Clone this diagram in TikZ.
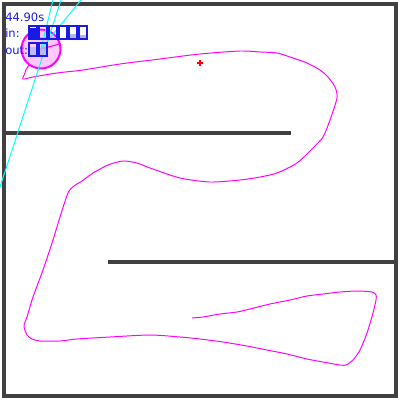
\documentclass[tikz,border=0pt]{standalone}
\usepackage{fontspec}
\setmainfont{DejaVu Sans}
\usepackage{xcolor}
\usepackage{tikz}
\usetikzlibrary{positioning}

\definecolor{wallgray}{HTML}{404040}
\definecolor{hudblue}{HTML}{1A1AE6}
\definecolor{hudlight}{HTML}{B4B4F5}
\definecolor{robotpink}{HTML}{FFC8FF}
\definecolor{trailmag}{HTML}{FF00FF}
\definecolor{raycyan}{HTML}{00FFFF}
\definecolor{goalred}{HTML}{FF0000}

\begin{document}
\begin{tikzpicture}[
    x=0.025cm, y=-0.025cm,
    wall/.style={draw=wallgray, line width=2.3pt},
    trail/.style={draw=trailmag, line width=0.7pt},
    ray/.style={draw=raycyan, line width=0.7pt},
    robotbody/.style={circle, draw=trailmag, fill=robotpink, line width=1.4pt, minimum size=0.975cm, inner sep=0pt},
    hud/.style={text=hudblue, font=\fontsize{8.2}{9}\selectfont, inner sep=0pt, anchor=base west},
    level/.style={draw=hudblue, line width=0.9pt}
]
    \useasboundingbox (0,0) rectangle (400,400);

    % Arena border and inner walls
    \draw[wall] (4,4) rectangle (396,396);
    \draw[wall] (4,133) -- (291,133);
    \draw[wall] (108,262) -- (396,262);

    % Goal marker
    \draw[goalred, line width=1.2pt] (197,63) -- (203,63) (200,60) -- (200,66);

    % Driven trail
    \draw[trail] plot[smooth, tension=0.45] coordinates {
        (192,318) (203,317) (220,314) (237,312) (250,309) (270,304) (290,300)
        (307,296) (323,294) (340,292) (357,291) (372,292) (376,295) (376,300)
        (373,313) (367,333) (360,350) (353,360) (346,365) (340,365) (323,362)
        (307,359) (287,354) (267,350) (247,346) (223,342) (200,339) (180,337)
        (150,335) (110,337) (77,339) (60,341) (40,341) (32,339) (27,335)
        (24,326) (27,317) (33,297) (43,270) (53,240) (60,217) (68,193)
        (74,186) (82,181) (93,173) (108,165) (123,161) (137,163) (150,168)
        (180,178) (210,182) (240,180) (260,177) (277,173) (297,163) (313,148)
        (323,137) (330,120) (337,98) (335,87) (328,77) (320,70) (307,63)
        (293,58) (277,53) (260,52) (240,51) (200,54) (160,59) (120,64)
        (83,70) (57,73) (33,77) (23,79) (25,73) (27,68) (41,49)};

    % Robot
    \node[robotbody] (robot) at (41,49) {};
    \draw[trailmag, line width=0.8pt] (robot.center) -- (robot.15);

    % Sensor rays
    \coordinate (rayA) at (53,0);
    \coordinate (rayB) at (81,0);
    \coordinate (rayC) at (61,0);
    \coordinate (rayD) at (0,187);
    \draw[ray] (robot.center) -- (rayA);
    \draw[ray] (robot.center) -- (rayB);
    \draw[ray] (rayC) -- (rayD);

    % Read-out
    \node[hud] (clock) at (5,22) {44.90s};
    \node[hud] (inlbl) at (5,38) {in:};
    \node[hud] (outlbl) at (5,55) {out:};
    \fill[hudblue] (29,28) rectangle (37,39);
    \foreach \i/\f in {1/0.15, 2/0.15, 3/0.05, 4/0.35, 5/0.3}
        \fill[hudlight] (29+10*\i,39-13*\f) rectangle (37+10*\i,39);
    \foreach \i in {0,...,5}
        \draw[level] (29+10*\i,26) rectangle (37+10*\i,39);
    \foreach \i/\f in {0/0.7, 1/0.65}
        \fill[hudlight, opacity=0.8] (29+10*\i,56-13*\f) rectangle (37+10*\i,56);
    \foreach \i in {0,1}
        \draw[level] (29+10*\i,43) rectangle (37+10*\i,56);
\end{tikzpicture}
\end{document}
